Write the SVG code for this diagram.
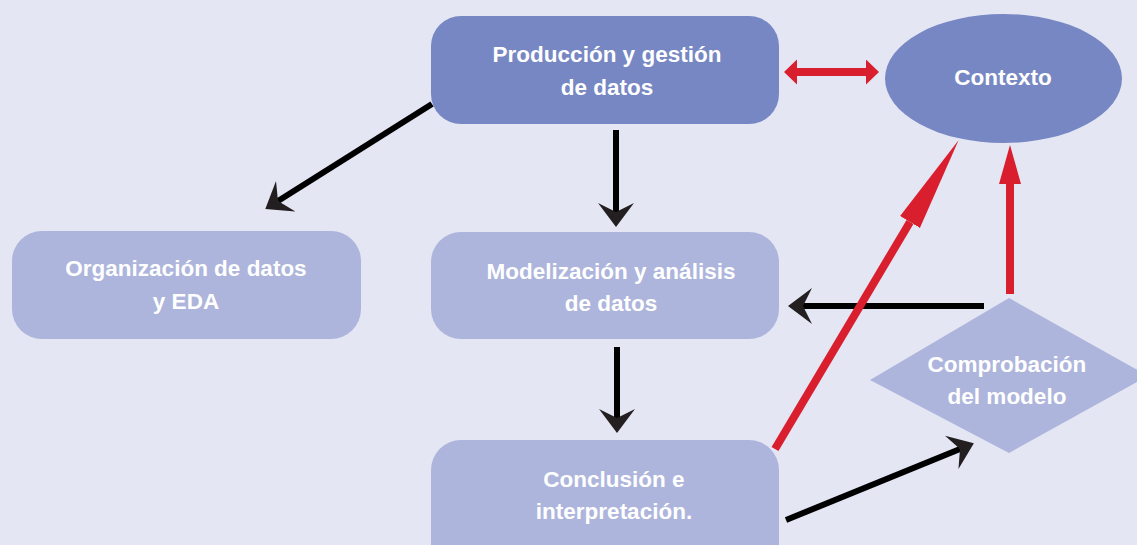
<svg xmlns="http://www.w3.org/2000/svg" width="1137" height="545" viewBox="0 0 1137 545">
<style>
.dark{fill:#7787c3}
.light{fill:#adb5dc}
.t{font-family:"Liberation Sans",Arial,sans-serif;font-weight:bold;font-size:22.5px;fill:#ffffff;text-anchor:middle}
.bk{stroke:#000;stroke-width:6;fill:none}
.rd{stroke:#d91e2e;stroke-width:8;fill:none}
</style>
<defs>
<marker id="ab" markerUnits="userSpaceOnUse" markerWidth="30" markerHeight="40" refX="9" refY="18" orient="auto">
<path d="M24,18 L0,0 L9,18 L0,36 Z" fill="#231f20"/>
</marker>
<marker id="ar" markerUnits="userSpaceOnUse" markerWidth="16" markerHeight="28" refX="0" refY="12.5" orient="auto-start-reverse">
<path d="M13,12.5 L0,0 L0,25 Z" fill="#d91e2e"/>
</marker>
<marker id="arl" markerUnits="userSpaceOnUse" markerWidth="100" markerHeight="26" refX="0" refY="11.5" orient="auto">
<path d="M95,11.5 L0,0 L0,23 Z" fill="#d91e2e"/>
</marker>
<marker id="ars" markerUnits="userSpaceOnUse" markerWidth="42" markerHeight="26" refX="0" refY="11" orient="auto">
<path d="M39,11 L0,0 L0,22 Z" fill="#d91e2e"/>
</marker>
</defs>
<rect width="1137" height="545" fill="#e4e6f4"/>
<g id="produccion">
<rect class="dark" x="431" y="16" width="348" height="108" rx="30"/>
<text class="t" x="607" y="62">Producción y gestión</text>
<text class="t" x="607" y="95">de datos</text>
</g>
<g id="contexto">
<ellipse class="dark" cx="1003.5" cy="78.5" rx="118.5" ry="64.5"/>
<text class="t" x="1003" y="85">Contexto</text>
</g>
<g id="organizacion">
<rect class="light" x="12" y="231" width="349" height="108" rx="30"/>
<text class="t" x="186" y="276">Organización de datos</text>
<text class="t" x="186" y="309">y EDA</text>
</g>
<g id="modelizacion">
<rect class="light" x="431" y="232" width="348" height="107" rx="30"/>
<text class="t" x="611" y="279">Modelización y análisis</text>
<text class="t" x="611" y="311">de datos</text>
</g>
<g id="conclusion">
<rect class="light" x="431" y="440" width="348" height="140" rx="30"/>
<text class="t" x="614" y="487">Conclusión e</text>
<text class="t" x="614" y="519">interpretación.</text>
</g>
<g id="comprobacion">
<polygon class="light" points="1009,298 1148,376 1009,453 870,380"/>
<text class="t" x="1007" y="372">Comprobación</text>
<text class="t" x="1007" y="404">del modelo</text>
</g>
<g id="connectors">
<line class="rd" stroke-width="9" x1="797" y1="72" x2="866" y2="72" marker-start="url(#ar)" marker-end="url(#ar)"/>
<line class="bk" x1="432" y1="104" x2="278" y2="201" marker-end="url(#ab)"/>
<line class="bk" x1="616" y1="130" x2="616" y2="212" marker-end="url(#ab)"/>
<line class="bk" x1="617" y1="347" x2="617" y2="418" marker-end="url(#ab)"/>
<line class="bk" x1="984" y1="306" x2="803" y2="306" marker-end="url(#ab)"/>
<line class="bk" x1="786" y1="520" x2="960" y2="449" marker-end="url(#ab)"/>
<line class="rd" x1="775" y1="449" x2="910" y2="222" marker-end="url(#arl)"/>
<line class="rd" x1="1010" y1="294" x2="1010" y2="184" marker-end="url(#ars)"/>
</g>
</svg>
